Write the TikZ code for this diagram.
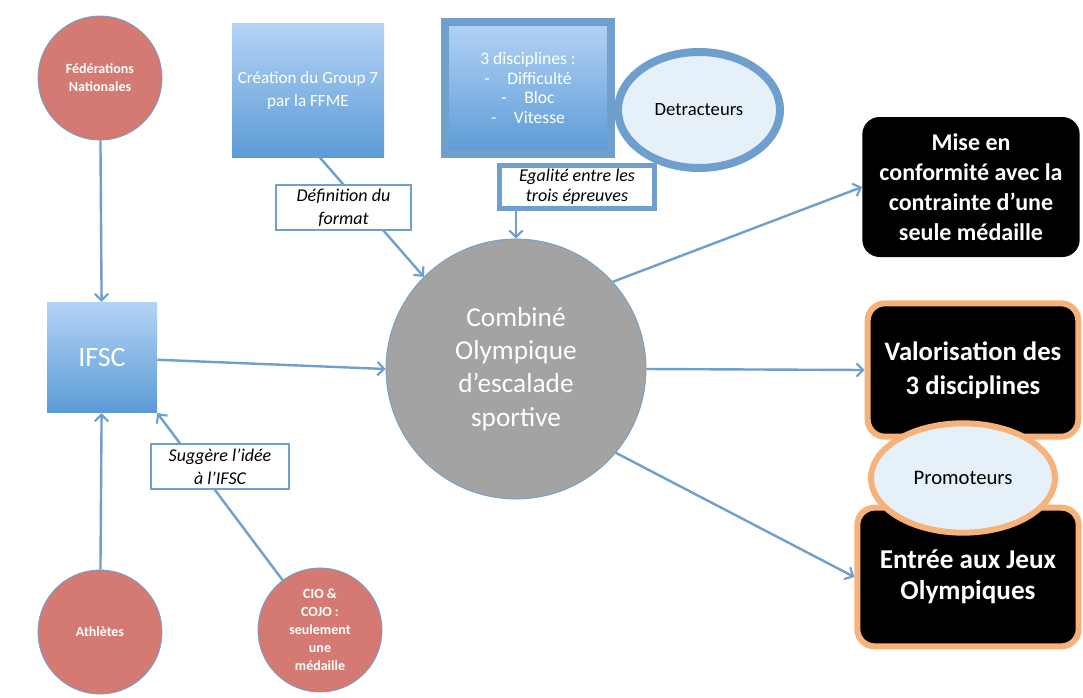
\documentclass[tikz,border=0pt]{standalone}
\usepackage{fontspec}
\setmainfont{Carlito}
\usetikzlibrary{arrows.meta}
\usetikzlibrary{shapes.geometric}
\definecolor{linkblue}{HTML}{6E9FCD}
\definecolor{salmon}{HTML}{D57A72}
\definecolor{bluetop}{HTML}{B3D3F5}
\definecolor{bluebot}{HTML}{5C9BD6}
\definecolor{paleblue}{HTML}{E5F0F8}
\definecolor{corgray}{HTML}{A3A3A3}
\definecolor{peach}{HTML}{F7B27A}
\tikzset{
  actor/.style={circle, draw=linkblue, line width=0.6pt, fill=salmon, text=white,
    font=\fontsize{10.5}{13.5}\selectfont\bfseries, minimum size=93pt, inner sep=0pt, align=center},
  bluebox/.style={rectangle, top color=bluetop, bottom color=bluebot, text=white, align=center, inner sep=0pt},
  edgelabel/.style={rectangle, draw=linkblue, line width=1.5pt, fill=white,
    font=\fontsize{13.5}{17}\selectfont\itshape, align=center, minimum width=101pt, minimum height=34pt, inner sep=1pt},
  outcome/.style={rectangle, rounded corners=13pt, fill=black, text=white, align=center, inner sep=0pt},
  opinion/.style={ellipse, fill=paleblue, align=center, inner sep=0pt},
  link/.style={draw=linkblue, line width=1.8pt, -{Straight Barb[length=5pt,width=10pt,line width=1.6pt]}}
}

\begin{document}
\begin{tikzpicture}[x=0.75pt,y=-0.75pt]
  \clip (0,0) rectangle (1083,697);
  \fill[white] (0,0) rectangle (1083,697);

  % actors
  \foreach \name/\x/\y/\txt in {
    fed/100/78/{Fédérations\\Nationales},
    ath/100/632/{Athlètes},
    cio/320/630/{CIO \&\\COJO :\\seulement\\une\\médaille}%
  } {
    \node[actor] (\name) at (\x,\y) {\txt};
  }

  \node[bluebox, minimum width=82.5pt, minimum height=83pt, font=\fontsize{21}{24}\selectfont]
    (ifsc) at (102,357.5) {IFSC};
  \node[bluebox, minimum width=114pt, minimum height=100pt, font=\fontsize{12.8}{17}\selectfont]
    (crea) at (308,90.5) {Création du Group 7\\par la FFME};
  \node[bluebox, draw=linkblue, line width=6pt, minimum width=124pt, minimum height=99pt,
    font=\fontsize{13.2}{14.6}\selectfont] (disc) at (528,88)
    {3 disciplines :\\-\quad Difficulté\\-\quad Bloc\\-\quad Vitesse};
  \node[opinion, draw=linkblue, line width=6pt, minimum width=121.5pt, minimum height=87pt,
    font=\fontsize{14}{16}\selectfont] (detr) at (699,110) {Detracteurs};

  % central node
  \node[circle, draw=linkblue, line width=0.6pt, fill=corgray, text=white, minimum size=195pt,
    inner sep=0pt, align=center, font=\fontsize{20.5}{25}\selectfont] (comb) at (516,369)
    {Combiné\\Olympique\\d’escalade\\sportive};

  % outcomes
  \node[outcome, minimum width=163pt, minimum height=105pt, font=\fontsize{18}{22.5}\selectfont\bfseries]
    (mise) at (971,187) {Mise en\\conformité avec la\\contrainte d’une\\seule médaille};
  \node[outcome, draw=peach, line width=4.5pt, minimum width=158pt, minimum height=100pt,
    font=\fontsize{20}{25.5}\selectfont\bfseries] (valo) at (973,370) {Valorisation des\\3 disciplines};
  \node[outcome, draw=peach, line width=4.5pt, minimum width=166pt, minimum height=104pt,
    font=\fontsize{20.4}{23.3}\selectfont\bfseries] (entree) at (968,577) {Entrée aux Jeux\\Olympiques};
  \node[opinion, draw=peach, line width=4.5pt, minimum width=138pt, minimum height=82pt,
    font=\fontsize{15.5}{17}\selectfont] (promo) at (963,478) {Promoteurs};

  % connectors
  \foreach \u/\v in {
    fed/ifsc,
    ath/ifsc,
    ifsc/comb.west,
    comb.east/valo.west,
    comb.42/mise.west,
    comb.-40/entree.west%
  } {
    \draw[link] (\u) -- (\v);
  }
  \draw[link] (crea.-80) -- node[edgelabel, pos=0.42, xshift=-15pt] (defn) {Définition du\\format} (comb.135);
  \draw[link] (cio) -- node[edgelabel, pos=0.68, xshift=17pt, minimum width=104pt] (sugg) {Suggère l’idée\\à l’IFSC} (ifsc.south east);
  \node[edgelabel, line width=4pt, minimum width=116pt, minimum height=32pt,
    font=\fontsize{13.5}{15}\selectfont\itshape] (egal) at (577,187)
    {Egalité entre les\\trois épreuves};
  \draw[link] (egal.south -| comb.north) -- (comb.north);

\end{tikzpicture}
\end{document}
